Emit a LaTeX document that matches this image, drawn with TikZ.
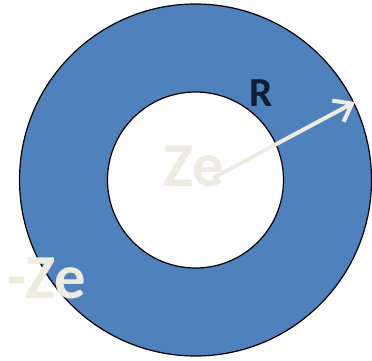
\documentclass[tikz,border=0pt]{standalone}
\usepackage{fontspec}
\setmainfont{Carlito}
\usetikzlibrary{arrows.meta}
\definecolor{ringblue}{HTML}{4F81BD}
\definecolor{cream}{HTML}{EEECE1}
\definecolor{navy}{HTML}{0F1E33}

\begin{document}
\begin{tikzpicture}[x=0.75pt,y=-0.75pt,>={Straight Barb[length=12pt,width=18pt]},
    charge/.style={text=cream,font=\bfseries\fontsize{47}{47}\selectfont,inner sep=0pt}]
        \useasboundingbox (0,0) rectangle (372,361);
        \coordinate (centre) at (195.5,180);
        \draw[line width=0.9pt,fill=ringblue] (centre) circle[radius=176];
        \draw[line width=0.9pt,fill=white] (centre) circle[radius=88];
        \node[charge] (inner) at (194,166) {Ze};
        \node[charge] (outer) at (47,278) {-Ze};
        \node[text=navy,font=\bfseries\fontsize{31}{31}\selectfont,inner sep=0pt] (radius) at (261,93) {R};
        \coordinate (tail) at (213,178);
        \coordinate (tip) at (355,102);
        \draw[->,cream,line width=3pt] (tail) -- (tip);
    \end{tikzpicture}
\end{document}
